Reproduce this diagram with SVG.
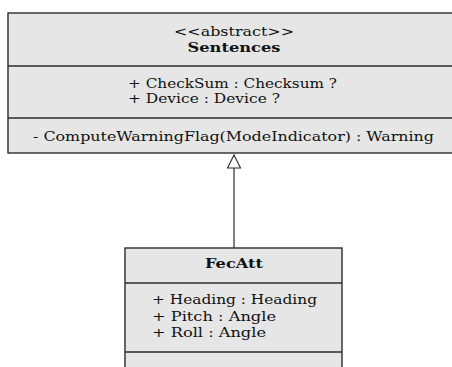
<svg xmlns="http://www.w3.org/2000/svg" width="452" height="367" viewBox="0 0 452 367">
<style>
.box{fill:#e6e6e6;stroke:#2b2b2b;stroke-width:1.4}
.div{stroke:#2b2b2b;stroke-width:1.4}
text{font-family:'DejaVu Serif','Liberation Serif',serif;font-size:13.5px;fill:#111}
.c{text-anchor:middle}
.b{font-weight:bold}
.conn{stroke:#2b2b2b;stroke-width:1.2;fill:none}
</style>
<defs>
<marker id="gen" markerWidth="16" markerHeight="16" refX="14" refY="7" orient="auto" markerUnits="userSpaceOnUse">
<path d="M1,0.5 L14,7 L1,13.5 Z" fill="#fff" stroke="#2b2b2b" stroke-width="1.1"/>
</marker>
</defs>
<g id="connectors">
<line class="conn" x1="234" y1="248" x2="234" y2="155" marker-end="url(#gen)"/>
</g>
<g id="Sentences">
<rect class="box" x="8" y="13" width="450" height="140"/>
<line class="div" x1="8" y1="66" x2="458" y2="66"/>
<line class="div" x1="8" y1="118" x2="458" y2="118"/>
<text class="c" x="234" y="36" textLength="120" lengthAdjust="spacingAndGlyphs">&lt;&lt;abstract&gt;&gt;</text>
<text class="c b" x="234" y="52" textLength="93" lengthAdjust="spacingAndGlyphs">Sentences</text>
<text x="128" y="88" textLength="209" lengthAdjust="spacingAndGlyphs">+ CheckSum : Checksum ?</text>
<text x="128" y="103" textLength="152" lengthAdjust="spacingAndGlyphs">+ Device : Device ?</text>
<text x="33" y="141" textLength="401" lengthAdjust="spacingAndGlyphs">- ComputeWarningFlag(ModeIndicator) : Warning</text>
</g>
<g id="FecAtt">
<rect class="box" x="125" y="248" width="217" height="130"/>
<line class="div" x1="125" y1="283" x2="342" y2="283"/>
<line class="div" x1="125" y1="352" x2="342" y2="352"/>
<text class="c b" x="234" y="268" textLength="58" lengthAdjust="spacingAndGlyphs">FecAtt</text>
<text x="152" y="304" textLength="165" lengthAdjust="spacingAndGlyphs">+ Heading : Heading</text>
<text x="152" y="321" textLength="124" lengthAdjust="spacingAndGlyphs">+ Pitch : Angle</text>
<text x="152" y="337" textLength="114" lengthAdjust="spacingAndGlyphs">+ Roll : Angle</text>
</g>
</svg>
